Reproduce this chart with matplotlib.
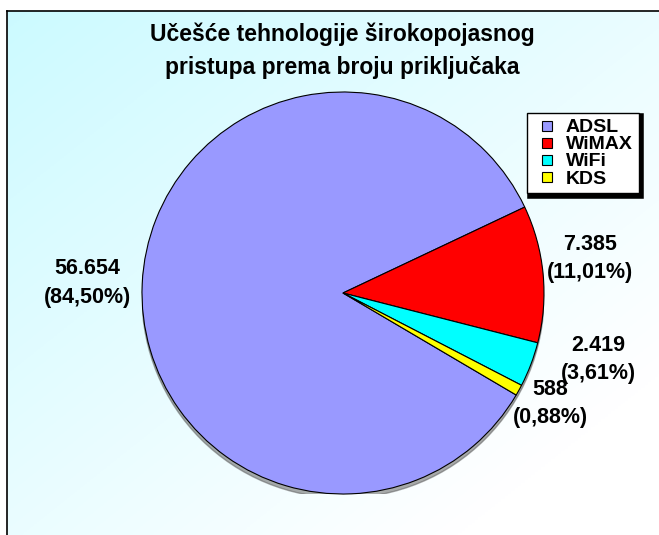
import numpy as np
import matplotlib.pyplot as plt
from matplotlib.lines import Line2D
from matplotlib.patches import Circle

# Data
categories = ["ADSL", "WiMAX", "WiFi", "KDS"]
values = [56654, 7385, 2419, 588]
percents = [84.50, 11.01, 3.61, 0.88]
colors = ["#9999FF", "#FF0000", "#00FFFF", "#FFFF00"]
title = "Učešće tehnologije širokopojasnog\npristupa prema broju priključaka"

# label positions in pie data units (radius = 1)
label_pos = [(-1.27, 0.05), (1.23, 0.17), (1.27, -0.33), (1.03, -0.55)]

plt.rcParams['font.family'] = ['Liberation Sans', 'DejaVu Sans']

W, H = 659, 535
fig = plt.figure(figsize=(W / 100, H / 100), dpi=100)
fig.patch.set_facecolor("white")

# Background frame with light cyan gradient
bg = fig.add_axes([7 / W, -0.01, 1.01, (H - 11) / H + 0.01])
yy, xx = np.mgrid[0:1:200j, 0:1:200j]
t = np.clip((xx * 0.6 + yy * 0.6), 0, 1)
c0 = np.array([0.80, 0.98, 1.0])
c1 = np.array([1.0, 1.0, 1.0])
img = c0[None, None, :] * (1 - t[..., None]) + c1[None, None, :] * t[..., None]
bg.imshow(img, extent=[0, 1, 0, 1], aspect="auto", origin="upper")
bg.set_xticks([])
bg.set_yticks([])
for s in ["right", "bottom"]:
    bg.spines[s].set_visible(False)
for s in ["left", "top"]:
    bg.spines[s].set_linewidth(1.2)
    bg.spines[s].set_color("black")

# Pie
cx, cy, r = 343, 293, 201
ax = fig.add_axes([(cx - r) / W, (H - cy - r) / H, 2 * r / W, 2 * r / H])
ax.add_patch(Circle((0.0, -0.02), 1.0, color="#555555", alpha=0.5, zorder=0))
wedges, _ = ax.pie(values, colors=colors, startangle=-30.5, counterclock=False,
                   wedgeprops=dict(edgecolor="black", linewidth=0.8))
ax.set_xlim(-1, 1)
ax.set_ylim(-1, 1)
ax.axis("off")

for v, p, (lx, ly) in zip(values, percents, label_pos):
    txt = "{:,}".format(v).replace(",", ".") + "\n(" + "{:.2f}".format(p).replace(".", ",") + "%)"
    ax.text(lx, ly, txt, ha="center", va="center", fontsize=15.5,
            fontweight="bold", linespacing=1.45)

fig.text(0.52, 0.905, title, ha="center", va="center", fontsize=16.5,
         fontweight="bold", linespacing=1.55)

handles = [Line2D([], [], linestyle="none", marker="s", markersize=7.5,
                  markerfacecolor=c, markeredgecolor="black", markeredgewidth=0.8, label=l)
           for c, l in zip(colors, categories)]
# thick-edged shadow: flush at top-left, ~4pt wide at bottom-right
leg = fig.legend(handles=handles, loc="upper left", bbox_to_anchor=(527 / W, 1 - 113 / H),
                 frameon=True, fancybox=False, framealpha=1,
                 shadow={'color': 'black', 'alpha': 1, 'linewidth': 4},
                 prop={'weight': 'bold', 'size': 14}, handlelength=1.5,
                 handletextpad=0.2, labelspacing=-0.03, borderpad=0.3, borderaxespad=0)
leg.get_frame().set_edgecolor("black")
leg.get_frame().set_facecolor("white")
leg.get_frame().set_linewidth(1.0)

fig.savefig("out.png", dpi=100)
